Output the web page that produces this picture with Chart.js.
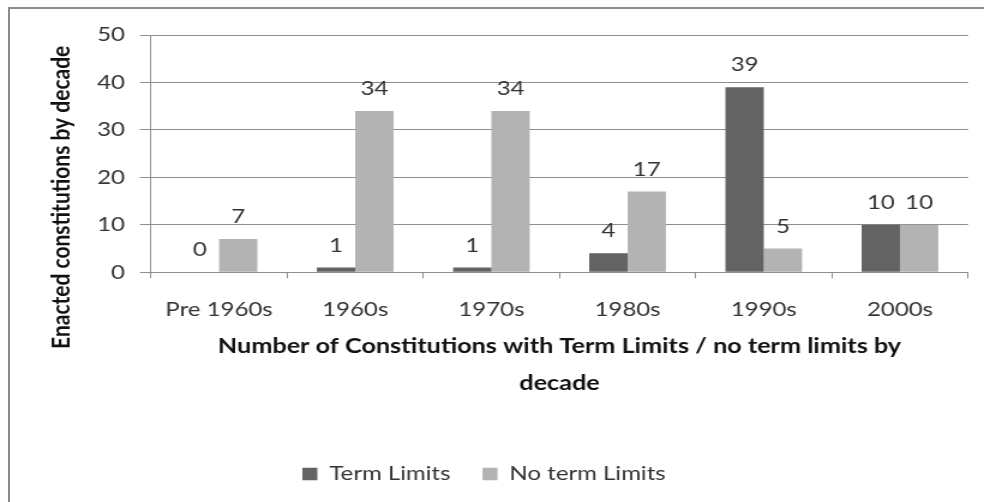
<!DOCTYPE html>
<html>
<head>
<meta charset="utf-8">
<script src="https://cdn.jsdelivr.net/npm/chart.js@4.4.0/dist/chart.umd.min.js"></script>
<style>
  html, body { margin: 0; padding: 0; background: #fff; overflow: hidden; }
  #frame { position: absolute; left: 8px; top: 7px; right: 0; bottom: 0;
           border-left: 2px solid #8c8c8c; border-top: 2px solid #8c8c8c; }
  /* the source picture is stretched sideways, so the chart is too */
  #wrap { position: absolute; left: 0; top: 0; width: 820px; height: 502px;
          transform: scaleX(1.2); transform-origin: 0 0; }
</style>
</head>
<body>
<div id="frame"></div>
<div id="wrap"><canvas id="myChart"></canvas></div>
<script>
const decades = ['Pre 1960s', '1960s', '1970s', '1980s', '1990s', '2000s'];
const termLimits = [0, 1, 1, 4, 39, 10];
const noTermLimits = [7, 34, 34, 17, 5, 10];
const yTicks = [0, 10, 20, 30, 40, 50];

const valueLabels = {
    id: 'valueLabels',
    afterDatasetsDraw(chart) {
        const ctx = chart.ctx;
        ctx.save();
        ctx.font = '20px Lato';
        ctx.fillStyle = '#333';
        ctx.textAlign = 'center';
        ctx.textBaseline = 'alphabetic';
        chart.data.datasets.forEach((ds, i) => {
            chart.getDatasetMeta(i).data.forEach((bar, j) => {
                ctx.fillText(ds.data[j], bar.x, bar.y - 16);
            });
        });
        ctx.restore();
    }
};

// y title sits lower than the axis middle in the original
const yTitle = {
    id: 'yTitle',
    afterDraw(chart) {
        const ctx = chart.ctx;
        const area = chart.chartArea;
        ctx.save();
        ctx.translate(51, area.bottom - 75);
        ctx.rotate(-Math.PI / 2);
        ctx.font = 'bold 21px Lato';
        ctx.fillStyle = '#111';
        ctx.textAlign = 'center';
        ctx.textBaseline = 'middle';
        ctx.fillText('Enacted constitutions by decade', 0, 0);
        ctx.restore();
    }
};

const tickFont = { family: 'Lato', size: 20 };

const myChart = new Chart(document.getElementById('myChart'), {
    type: 'bar',
    data: {
        labels: decades,
        datasets: [{
            label: 'Term Limits',
            data: termLimits,
            backgroundColor: '#636363',
            categoryPercentage: 0.563,
            barPercentage: 1
        }, {
            label: 'No term Limits',
            data: noTermLimits,
            backgroundColor: '#b3b3b3',
            categoryPercentage: 0.563,
            barPercentage: 1
        }]
    },
    options: {
        responsive: true,
        maintainAspectRatio: false,
        animation: false,
        layout: { padding: { top: 35, right: 13.3, bottom: 8, left: 0 } },
        plugins: {
            legend: {
                position: 'bottom',
                labels: {
                    boxWidth: 12.5,
                    boxHeight: 12.5,
                    padding: 26.7,
                    color: '#333',
                    font: tickFont
                }
            },
            tooltip: { enabled: false }
        },
        scales: {
            x: {
                grid: { drawOnChartArea: false, tickLength: 6, color: '#8e8e8e' },
                border: { color: '#8e8e8e' },
                ticks: { padding: 19.7, color: '#333', font: tickFont, maxRotation: 0 },
                title: {
                    display: true,
                    text: ['Number of Constitutions with Term Limits / no term limits by', 'decade'],
                    color: '#111',
                    font: { family: 'Lato', size: 21, weight: 'bold', lineHeight: 1.76 },
                    padding: { top: 0, bottom: 35.2 }
                },
                afterFit(scale) { scale.height = 165; }
            },
            y: {
                min: yTicks[0],
                max: yTicks[yTicks.length - 1],
                ticks: { stepSize: yTicks[1] - yTicks[0], padding: 12.4, color: '#333', font: tickFont },
                grid: { color: '#8e8e8e', tickLength: 9.2 },
                border: { color: '#8e8e8e' },
                afterFit(scale) { scale.width = 125.8; }
            }
        }
    },
    plugins: [valueLabels, yTitle]
});
</script>
</body>
</html>
